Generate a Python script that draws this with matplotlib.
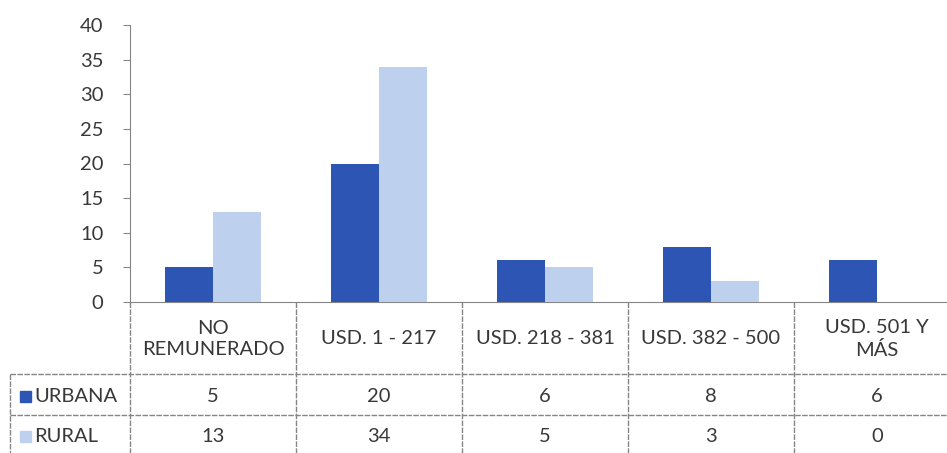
import matplotlib
matplotlib.use("Agg")
import matplotlib.pyplot as plt
from matplotlib.patches import Rectangle
import numpy as np

categories = ["NO\nREMUNERADO", "USD. 1 - 217", "USD. 218 - 381", "USD. 382 - 500", "USD. 501 Y\nMÁS"]
series_names = ["URBANA", "RURAL"]
urbana = [5, 20, 6, 8, 6]
rural = [13, 34, 5, 3, 0]
yticks = [0, 5, 10, 15, 20, 25, 30, 35, 40]

colors = ["#2D55B4", "#BDD1EF"]
txt = "#383838"
grid_c = "#858585"
plt.rcParams['font.family'] = ['Lato', 'DejaVu Sans']
fs = 14.5

W, H = 947, 453
fig = plt.figure(figsize=(W / 100, H / 100), dpi=100)
x0, ytop, y0 = 130, 25, 302
catw = 166
ax = fig.add_axes([x0 / W, (H - y0) / H, 5 * catw / W, (y0 - ytop) / H])
x = np.arange(len(categories))
bw = 0.29
ax.bar(x - bw / 2, urbana, bw, color=colors[0], zorder=3)
ax.bar(x + bw / 2, rural, bw, color=colors[1], zorder=3)
ax.set_xlim(-0.5, len(categories) - 0.5)
ax.set_ylim(0, 40)
ax.set_yticks(yticks)
ax.set_yticklabels([str(v) for v in yticks], fontsize=fs, color=txt)
ax.tick_params(axis='y', length=5, color=grid_c, pad=14)
ax.tick_params(axis='x', bottom=False, labelbottom=False)
for s in ['top', 'right']:
    ax.spines[s].set_visible(False)
ax.spines['left'].set_color(grid_c)
ax.spines['bottom'].set_color(grid_c)

# data table below
ph = y0 - ytop
def fy(py):
    return -(py - y0) / ph

tr = ax.get_xaxis_transform()
lw = 1.0
ls = (0, (4, 1))
for b in np.arange(len(categories) + 1) - 0.5:
    ax.plot([b, b], [fy(y0), fy(460)], transform=tr, color=grid_c, lw=lw, ls=ls, clip_on=False)
xl = -0.5 - 120 / catw
for yy in [374, 415]:
    ax.plot([xl, len(categories) - 0.5], [fy(yy), fy(yy)], transform=tr, color=grid_c, lw=lw, ls=ls, clip_on=False)
ax.plot([xl, xl], [fy(374), fy(460)], transform=tr, color=grid_c, lw=lw, ls=ls, clip_on=False)

for i, c in enumerate(categories):
    ax.text(i, fy(339), c, transform=tr, ha='center', va='center', fontsize=fs,
            color=txt, linespacing=1.35, clip_on=False)
    ax.text(i, fy(396), str(urbana[i]), transform=tr, ha='center', va='center', fontsize=fs,
            color=txt, clip_on=False)
    ax.text(i, fy(436), str(rural[i]), transform=tr, ha='center', va='center', fontsize=fs,
            color=txt, clip_on=False)

for k, (name, yy) in enumerate(zip(series_names, [396, 436])):
    kx = -0.5 - 110 / catw
    ax.add_patch(Rectangle((kx, fy(yy + 6)), 11 / catw, 11 / ph, transform=tr,
                           color=colors[k], clip_on=False))
    ax.text(-0.5 - 96 / catw, fy(yy), name, transform=tr, ha='left', va='center',
            fontsize=fs, color=txt, clip_on=False)

fig.savefig("out.png", dpi=100)
